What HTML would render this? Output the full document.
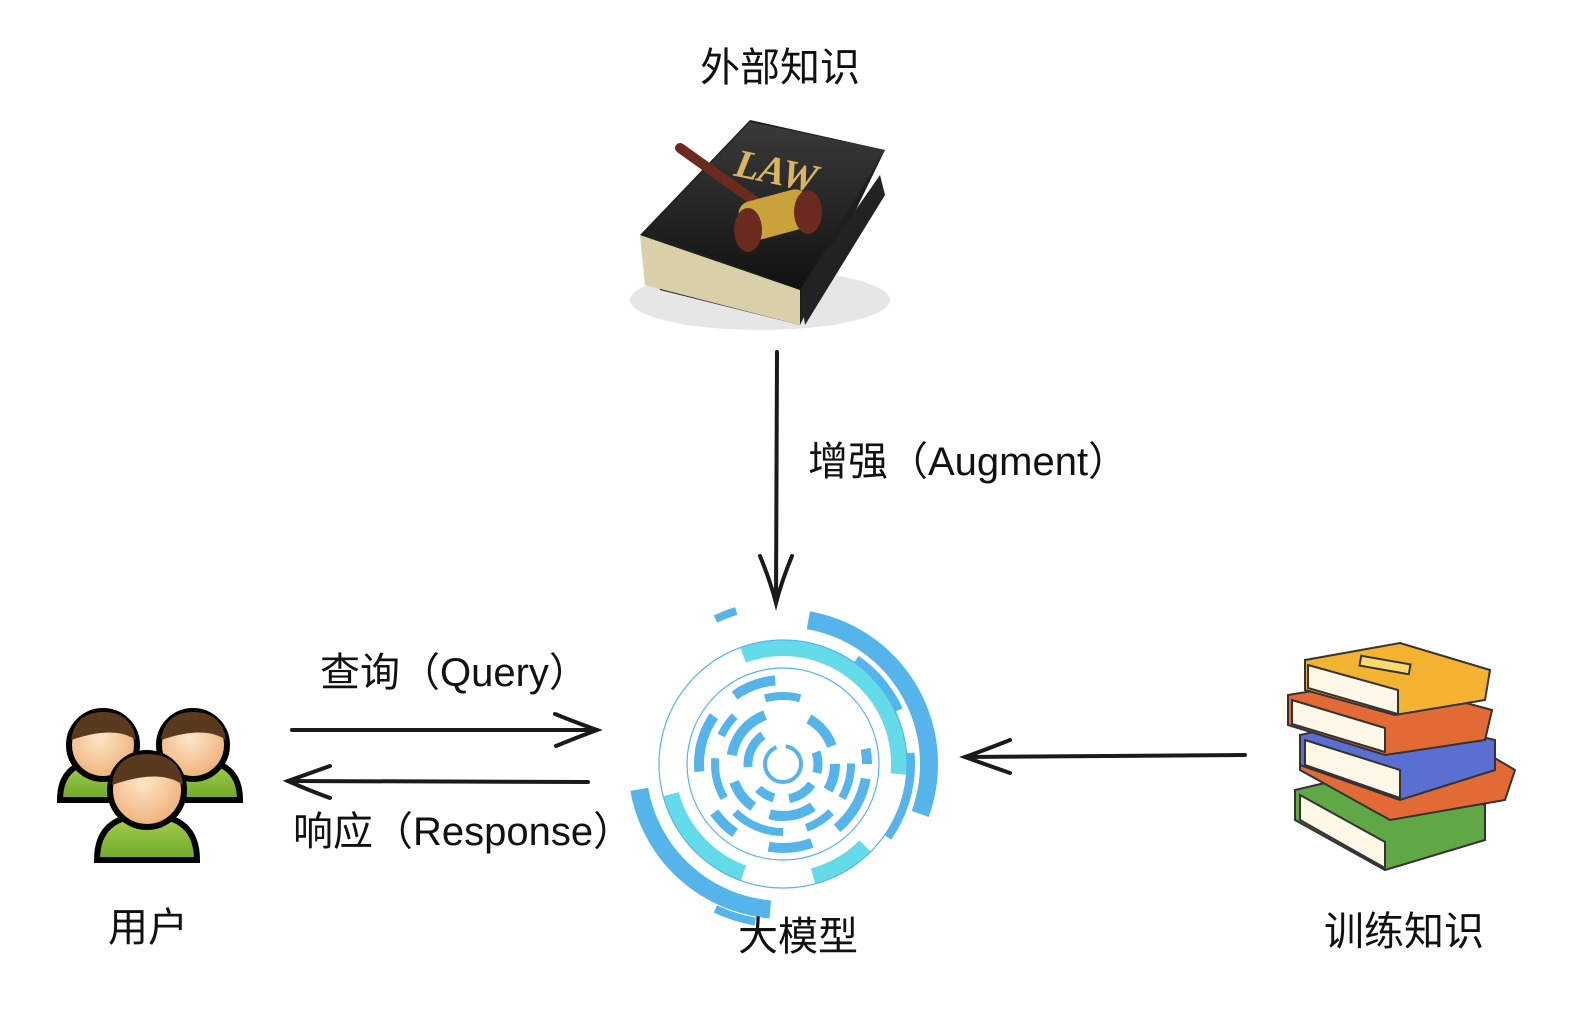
<!DOCTYPE html>
<html><head><meta charset="utf-8"><style>
html,body{margin:0;padding:0;background:#fff;}
body{width:1580px;height:1030px;position:relative;overflow:hidden;font-family:"Liberation Sans","Noto Sans CJK SC",sans-serif;color:#111;}
.t{position:absolute;font-size:40px;white-space:nowrap;line-height:1;}
</style></head><body>
<svg width="1580" height="1030" style="position:absolute;left:0;top:0">
<defs>
<linearGradient id="bookside" x1="0" y1="0" x2="0" y2="1"><stop offset="0" stop-color="#3a3a3a"/><stop offset="1" stop-color="#111"/></linearGradient>
<radialGradient id="face" cx="0.45" cy="0.4" r="0.6"><stop offset="0" stop-color="#fde6c8"/><stop offset="1" stop-color="#f0b078"/></radialGradient>
<linearGradient id="green" x1="0" y1="0" x2="0" y2="1"><stop offset="0" stop-color="#a6d050"/><stop offset="1" stop-color="#6fa82a"/></linearGradient>
</defs>
<!-- law book -->
<ellipse cx="760" cy="300" rx="130" ry="30" fill="#e6e6e6"/>
<polygon points="640,235 750,120 885,150 800,325 660,290" fill="#1e1e1e"/>
<polygon points="640,235 800,290 800,325 645,285" fill="#d9cfa8"/>
<polygon points="800,290 880,175 885,195 805,325" fill="#222"/>
<polygon points="645,232 750,122 885,150 800,290" fill="url(#bookside)"/>
<text x="735" y="185" font-family="Liberation Serif" font-weight="bold" font-style="italic" font-size="40" fill="#d9b560" transform="rotate(12 780 170)">LAW</text>
<line x1="680" y1="148" x2="760" y2="205" stroke="#6b2a1e" stroke-width="10" stroke-linecap="round"/>
<rect x="740" y="195" width="70" height="40" rx="12" fill="#c9a23a" transform="rotate(-15 775 215)"/>
<ellipse cx="748" cy="230" rx="14" ry="22" fill="#6b2a1e"/>
<ellipse cx="808" cy="212" rx="14" ry="22" fill="#6b2a1e"/>
<!-- arrows -->
<g fill="none" stroke="#1a1a1a" stroke-width="4" stroke-linecap="round">
<path d="M777 352 L776 600"/>
<path d="M760 556 Q770 580 776 603 Q782 580 792 556"/>
<path d="M292 730 L597 730"/>
<path d="M555 714 Q580 724 597 730 Q578 737 556 746"/>
<path d="M588 782 L288 781"/>
<path d="M330 766 Q305 775 288 781 Q308 790 330 798"/>
<path d="M1245 755 L965 757"/>
<path d="M1010 740 Q985 750 965 757 Q987 765 1010 773"/>
</g>
<!-- model rings -->
<g fill="none" transform="translate(783,764)">
<circle r="146" stroke="#55b5ea" stroke-width="18" pathLength="360" stroke-dasharray="100 260" stroke-dashoffset="80"/>
<circle r="146" stroke="#55b5ea" stroke-width="18" pathLength="360" stroke-dasharray="75 285" stroke-dashoffset="-95"/>
<circle r="128" stroke="#55b5ea" stroke-width="8" pathLength="360" stroke-dasharray="30 20 40 270" stroke-dashoffset="55"/>
<circle r="116" stroke="#64dbe9" stroke-width="16" pathLength="360" stroke-dasharray="115 245" stroke-dashoffset="110"/>
<circle r="116" stroke="#64dbe9" stroke-width="16" pathLength="360" stroke-dasharray="55 305" stroke-dashoffset="-110"/>
<circle r="116" stroke="#64dbe9" stroke-width="16" pathLength="360" stroke-dasharray="30 330" stroke-dashoffset="-45"/>
<circle r="124" stroke="#55b5ea" stroke-width="1.2"/>
<circle r="96" stroke="#55b5ea" stroke-width="1.2"/>
<circle r="84" stroke="#55b5ea" stroke-width="10" pathLength="360" stroke-dasharray="25 15 40 20 30 25 20 30 40 20 30 85" stroke-dashoffset="30"/>
<circle r="68" stroke="#55b5ea" stroke-width="8" pathLength="360" stroke-dasharray="30 15 25 20 45 15 35 20 20 30 30 75"/>
<circle r="52" stroke="#55b5ea" stroke-width="10" pathLength="360" stroke-dasharray="40 20 30 25 50 20 35 30 60 50" stroke-dashoffset="60"/>
<circle r="35" stroke="#55b5ea" stroke-width="9" pathLength="360" stroke-dasharray="35 20 45 25 30 40 60 105" stroke-dashoffset="20"/>
<circle r="18" stroke="#55b5ea" stroke-width="4" pathLength="360" stroke-dasharray="250 30 80 0"/>
<circle r="160" stroke="#55b5ea" stroke-width="8" pathLength="360" stroke-dasharray="15 345" stroke-dashoffset="-100"/>
<circle r="160" stroke="#55b5ea" stroke-width="8" pathLength="360" stroke-dasharray="8 352" stroke-dashoffset="115"/>
</g>
<!-- users -->
<g stroke="#000" stroke-width="6">
<path d="M60 800 Q60 760 105 760 Q150 760 150 800 Z" fill="url(#green)"/>
<path d="M150 800 Q150 760 195 760 Q240 760 240 800 Z" fill="url(#green)"/>
<circle cx="103" cy="745" r="34" fill="url(#face)"/>
<circle cx="193" cy="745" r="34" fill="url(#face)"/>
<path d="M97 860 Q97 815 147 815 Q197 815 197 860 Z" fill="url(#green)"/>
<circle cx="147" cy="790" r="37" fill="url(#face)"/>
</g>
<path d="M71 740 Q75 712 103 712 Q132 712 136 740 Q115 725 71 740Z" fill="#5a3a1e"/>
<path d="M161 740 Q165 712 193 712 Q222 712 226 740 Q205 725 161 740Z" fill="#5a3a1e"/>
<path d="M112 785 Q115 754 147 754 Q180 754 183 785 Q160 768 112 785Z" fill="#5a3a1e"/>
<!-- books -->
<g stroke="#333" stroke-width="2">
<path d="M1295 790 L1380 770 L1485 805 L1485 840 L1385 870 L1295 820 Z" fill="#5fa845"/>
<path d="M1300 795 L1385 842 L1385 868 L1300 820 Z" fill="#fff8e6"/>
<path d="M1300 745 L1430 720 L1515 770 L1505 800 L1390 820 L1300 770 Z" fill="#e26a35"/>
<path d="M1300 735 L1390 715 L1495 740 L1495 770 L1400 800 L1300 765 Z" fill="#5a6fd0"/>
<path d="M1305 740 L1400 770 L1400 798 L1305 765 Z" fill="#fff8e6"/>
<path d="M1288 695 L1380 680 L1492 710 L1485 740 L1385 755 L1288 725 Z" fill="#e26a35"/>
<path d="M1292 700 L1385 728 L1385 752 L1292 724 Z" fill="#fff8e6"/>
<path d="M1305 660 L1400 643 L1490 670 L1485 700 L1395 715 L1305 690 Z" fill="#f3b230"/>
<path d="M1308 665 L1398 690 L1398 714 L1308 688 Z" fill="#fff8e6"/>
<rect x="1360" y="660" width="50" height="10" fill="#fbd870" transform="rotate(10 1385 665)"/>
</g>
</svg>
<div class="t" style="left:700px;top:48px">外部知识</div>
<div class="t" style="left:808px;top:442px">增强（Augment）</div>
<div class="t" style="left:320px;top:653px">查询（Query）</div>
<div class="t" style="left:293px;top:812px">响应（Response）</div>
<div class="t" style="left:108px;top:908px">用户</div>
<div class="t" style="left:738px;top:917px">大模型</div>
<div class="t" style="left:1324px;top:912px">训练知识</div>
</body></html>
